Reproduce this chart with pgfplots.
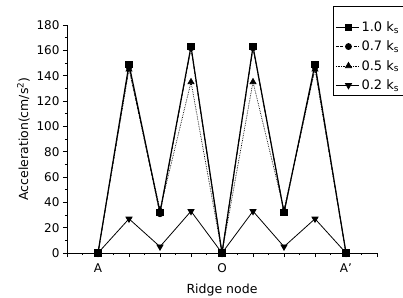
\documentclass[border=0pt]{standalone}
\usepackage{fontspec}
\setmainfont{DejaVu Sans}
\usepackage{pgfplots}
\pgfplotsset{compat=1.18}
\begin{document}
\begin{tikzpicture}
\begin{axis}[
 scale only axis, width=310pt, height=228pt,
 xmin=-1, xmax=9, ymin=0, ymax=180,
 axis x line*=bottom, axis y line*=left,
 axis line style={-, line width=0.9pt},
 xtick={-1,0,...,9}, xticklabels={,A,,,,O,,,,A',},
 ytick={0,20,...,180}, minor y tick num=1, minor x tick num=1,
 clip=false,
 tick style={black, line width=0.8pt},
 tick align=outside,
 major tick length=4pt, minor tick length=2pt,
 /pgf/number format/assume math mode=true,
 ticklabel style={font=\fontsize{12}{14}\selectfont},
 xticklabel style={yshift=-3pt},
 xlabel={Ridge node}, ylabel={Acceleration(cm/s\textsuperscript{2})},
 xlabel style={yshift=-5pt},
 label style={font=\fontsize{12.5}{15}\selectfont},
 legend style={at={(0.858,1.083)}, anchor=north west, draw=black, line width=0.8pt,
   font=\fontsize{13}{15}\selectfont, row sep=4pt, inner sep=2pt,
   legend image code/.code={\draw[mark repeat=2,mark phase=2] plot coordinates {(0pt,0pt) (12.5pt,0pt) (23pt,0pt)};}},
 legend cell align=left,
]
\addlegendimage{empty legend}
\addlegendentry{\rule{0pt}{1.5pt}}
\addplot[black, line width=1.2pt, mark=square*, mark size=3pt, mark options={solid}]
 coordinates {(0,0) (1,149) (2,32) (3,163) (4,0) (5,163) (6,32) (7,149) (8,0)};
\addlegendentry{1.0 k\textsubscript{s}}
\addplot[black, line width=0.8pt, dash pattern=on 3pt off 1.5pt, mark=*, mark size=3pt, mark options={solid}]
 coordinates {(0,0) (1,147) (2,31) (3,162) (4,0) (5,162) (6,32) (7,147) (8,0)};
\addlegendentry{0.7 k\textsubscript{s}}
\addplot[black, line width=0.7pt, densely dotted, mark=triangle*, mark size=3.5pt, mark options={solid}]
 coordinates {(0,0) (1,145) (2,34) (3,135) (4,0) (5,135) (6,34) (7,145) (8,0)};
\addlegendentry{0.5 k\textsubscript{s}}
\addplot[black, line width=0.8pt, mark=triangle*, mark size=3.5pt, mark options={solid, rotate=180}]
 coordinates {(0,0) (1,27) (2,5) (3,33) (4,0) (5,33) (6,5) (7,27) (8,0)};
\addlegendentry{0.2 k\textsubscript{s}}
\end{axis}
\pgfresetboundingbox
\path ([xshift=-67pt,yshift=-44pt]current axis.south west) rectangle ([xshift=26pt,yshift=25pt]current axis.north east);
\end{tikzpicture}
\end{document}
